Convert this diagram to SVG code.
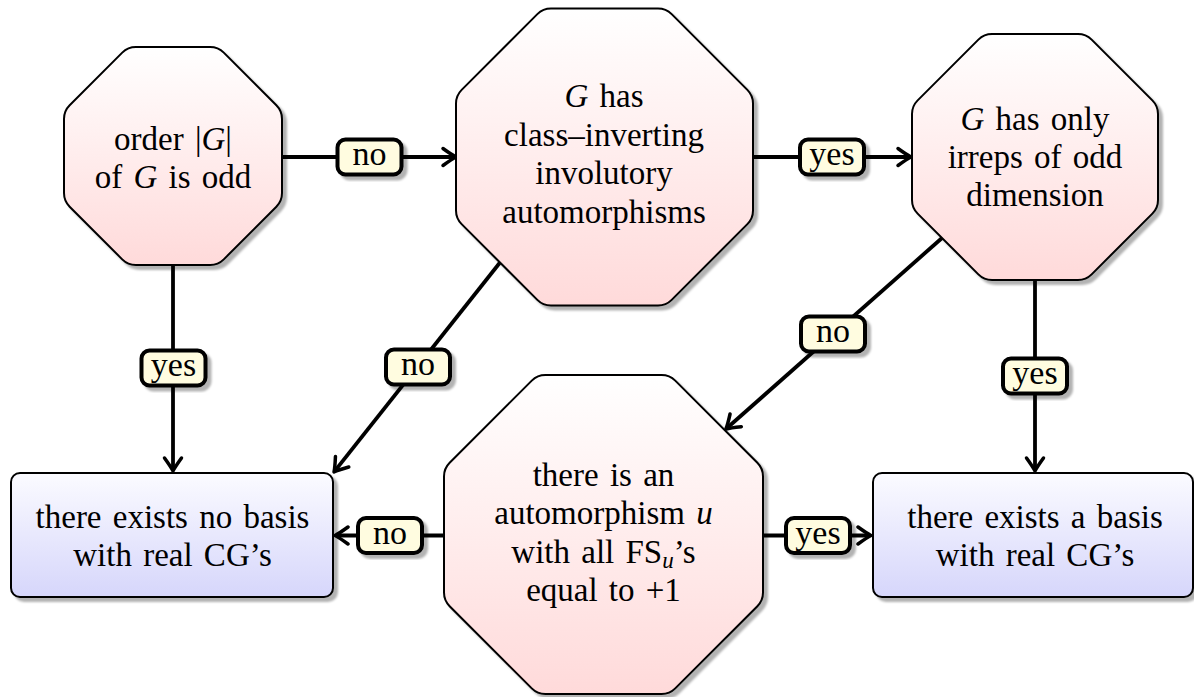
<svg xmlns="http://www.w3.org/2000/svg" width="1194" height="697" viewBox="0 0 1194 697">
  <style>
    .oct { fill: url(#gOct); stroke: #000; stroke-width: 2; filter: url(#sh); }
    .box { fill: url(#gBox); stroke: #000; stroke-width: 2; filter: url(#sh); }
    .lbl { fill: #fffce0; stroke: #000; stroke-width: 4; filter: url(#sh); }
    .edge { fill: none; stroke: #000; stroke-width: 3.8; marker-end: url(#arr); }
    text { font-family: 'Liberation Serif', 'Times New Roman', Tinos, 'DejaVu Serif', serif; fill: #000; text-anchor: middle; }
    .t { font-size: 33px; word-spacing: 3px; }
    .lt { font-size: 34px; }
    .i { font-style: italic; }
  </style>
  <defs>
    <linearGradient id="gOct" x1="0" y1="0" x2="0" y2="1">
      <stop offset="0" stop-color="#ffffff"/>
      <stop offset="1" stop-color="#ffdada"/>
    </linearGradient>
    <linearGradient id="gBox" x1="0" y1="0" x2="0" y2="1">
      <stop offset="0" stop-color="#fbfbff"/>
      <stop offset="1" stop-color="#d6d6fb"/>
    </linearGradient>
    <filter id="sh" x="-10%" y="-10%" width="130%" height="130%">
      <feGaussianBlur in="SourceAlpha" stdDeviation="1.3"/>
      <feOffset dx="4" dy="4" result="b"/>
      <feFlood flood-color="#000" flood-opacity="0.3"/>
      <feComposite in2="b" operator="in"/>
      <feMerge><feMergeNode/><feMergeNode in="SourceGraphic"/></feMerge>
    </filter>
    <marker id="arr" viewBox="-16 -11 19 22" refX="-3" refY="0" markerWidth="19" markerHeight="22" orient="auto" markerUnits="userSpaceOnUse">
      <path d="M -13 -8.5 Q -4 -2 0 0 Q -4 2 -13 8.5" fill="none" stroke="#000" stroke-width="3.5" stroke-linecap="round" stroke-linejoin="round"/>
    </marker>
  </defs>

  <g id="connectors">
    <path class="edge" d="M 282 157 L 453 157"/>
    <path class="edge" d="M 753 157 L 908 157"/>
    <path class="edge" d="M 173 265 L 173 468"/>
    <path class="edge" d="M 500 262.5 L 335.9 469.6"/>
    <path class="edge" d="M 942 238 L 728.2 427"/>
    <path class="edge" d="M 1035 280 L 1035 468"/>
    <path class="edge" d="M 444 535.5 L 338 535.5"/>
    <path class="edge" d="M 763 535.5 L 868 535.5"/>
  </g>

  <g id="n1">
    <path class="oct" d="M 135.9,47 L 210.1,47 Q 218.1,47 223.76,52.66 L 276.34,105.24 Q 282,110.9 282,118.9 L 282,193.1 Q 282,201.1 276.34,206.76 L 223.76,259.34 Q 218.1,265 210.1,265 L 135.9,265 Q 127.9,265 122.24,259.34 L 69.66,206.76 Q 64,201.1 64,193.1 L 64,118.9 Q 64,110.9 69.66,105.24 L 122.24,52.66 Q 127.9,47 135.9,47 Z"/>
    <text class="t" x="173" y="150">order |<tspan class="i">G</tspan>|</text>
    <text class="t" x="173" y="188">of <tspan class="i">G</tspan> is odd</text>
  </g>

  <g id="n2">
    <path class="oct" d="M 551,8.5 L 658,8.5 Q 666,8.5 671.66,14.16 L 747.34,89.84 Q 753,95.5 753,103.5 L 753,210.5 Q 753,218.5 747.34,224.16 L 671.66,299.84 Q 666,305.5 658,305.5 L 551,305.5 Q 543,305.5 537.34,299.84 L 461.66,224.16 Q 456,218.5 456,210.5 L 456,103.5 Q 456,95.5 461.66,89.84 L 537.34,14.16 Q 543,8.5 551,8.5 Z"/>
    <text class="t" x="604" y="107"><tspan class="i">G</tspan> has</text>
    <text class="t" x="604" y="145.5">class–inverting</text>
    <text class="t" x="604" y="184">involutory</text>
    <text class="t" x="604" y="222.5">automorphisms</text>
  </g>

  <g id="n3">
    <path class="oct" d="M 992.05,34 L 1077.95,34 Q 1085.95,34 1091.61,39.66 L 1152.34,100.39 Q 1158,106.05 1158,114.05 L 1158,199.95 Q 1158,207.95 1152.34,213.61 L 1091.61,274.34 Q 1085.95,280 1077.95,280 L 992.05,280 Q 984.05,280 978.39,274.34 L 917.66,213.61 Q 912,207.95 912,199.95 L 912,114.05 Q 912,106.05 917.66,100.39 L 978.39,39.66 Q 984.05,34 992.05,34 Z"/>
    <text class="t" x="1035" y="130"><tspan class="i">G</tspan> has only</text>
    <text class="t" x="1035" y="168">irreps of odd</text>
    <text class="t" x="1035" y="206">dimension</text>
  </g>

  <g id="n4">
    <path class="oct" d="M 545.43,375 L 661.57,375 Q 669.57,375 675.23,380.66 L 757.34,462.77 Q 763,468.43 763,476.43 L 763,592.57 Q 763,600.57 757.34,606.23 L 675.23,688.34 Q 669.57,694 661.57,694 L 545.43,694 Q 537.43,694 531.77,688.34 L 449.66,606.23 Q 444,600.57 444,592.57 L 444,476.43 Q 444,468.43 449.66,462.77 L 531.77,380.66 Q 537.43,375 545.43,375 Z"/>
    <text class="t" x="603.5" y="486">there is an</text>
    <text class="t" x="603.5" y="524">automorphism <tspan class="i">u</tspan></text>
    <text class="t" x="603.5" y="562.5">with all FS<tspan class="i" font-size="23" dy="5">u</tspan><tspan dy="-5">’s</tspan></text>
    <text class="t" x="603.5" y="600.5">equal to +1</text>
  </g>

  <g id="r1">
    <rect class="box" x="11" y="473" width="322" height="124" rx="9"/>
    <text class="t" x="172.5" y="527.5">there exists no basis</text>
    <text class="t" x="172.5" y="566">with real CG’s</text>
  </g>

  <g id="r2">
    <rect class="box" x="873" y="473" width="320" height="124" rx="9"/>
    <text class="t" x="1035" y="527.5">there exists a basis</text>
    <text class="t" x="1035" y="566">with real CG’s</text>
  </g>

  <g id="labels">
    <g id="l1"><rect class="lbl" x="337.5" y="139.5" width="64" height="35" rx="8"/><text class="lt" x="369.5" y="165">no</text></g>
    <g id="l2"><rect class="lbl" x="800" y="139.5" width="64" height="35" rx="8"/><text class="lt" x="832" y="165">yes</text></g>
    <g id="l3"><rect class="lbl" x="141.5" y="350.5" width="64" height="35" rx="8"/><text class="lt" x="173.5" y="376">yes</text></g>
    <g id="l4"><rect class="lbl" x="386" y="349.5" width="64" height="35" rx="8"/><text class="lt" x="418" y="375">no</text></g>
    <g id="l5"><rect class="lbl" x="801" y="316.5" width="64" height="35" rx="8"/><text class="lt" x="833" y="342">no</text></g>
    <g id="l6"><rect class="lbl" x="1003" y="358.5" width="64" height="35" rx="8"/><text class="lt" x="1035" y="384">yes</text></g>
    <g id="l7"><rect class="lbl" x="358" y="518" width="64" height="35" rx="8"/><text class="lt" x="390" y="543.5">no</text></g>
    <g id="l8"><rect class="lbl" x="786" y="518" width="64" height="35" rx="8"/><text class="lt" x="818" y="543.5">yes</text></g>
  </g>
</svg>
